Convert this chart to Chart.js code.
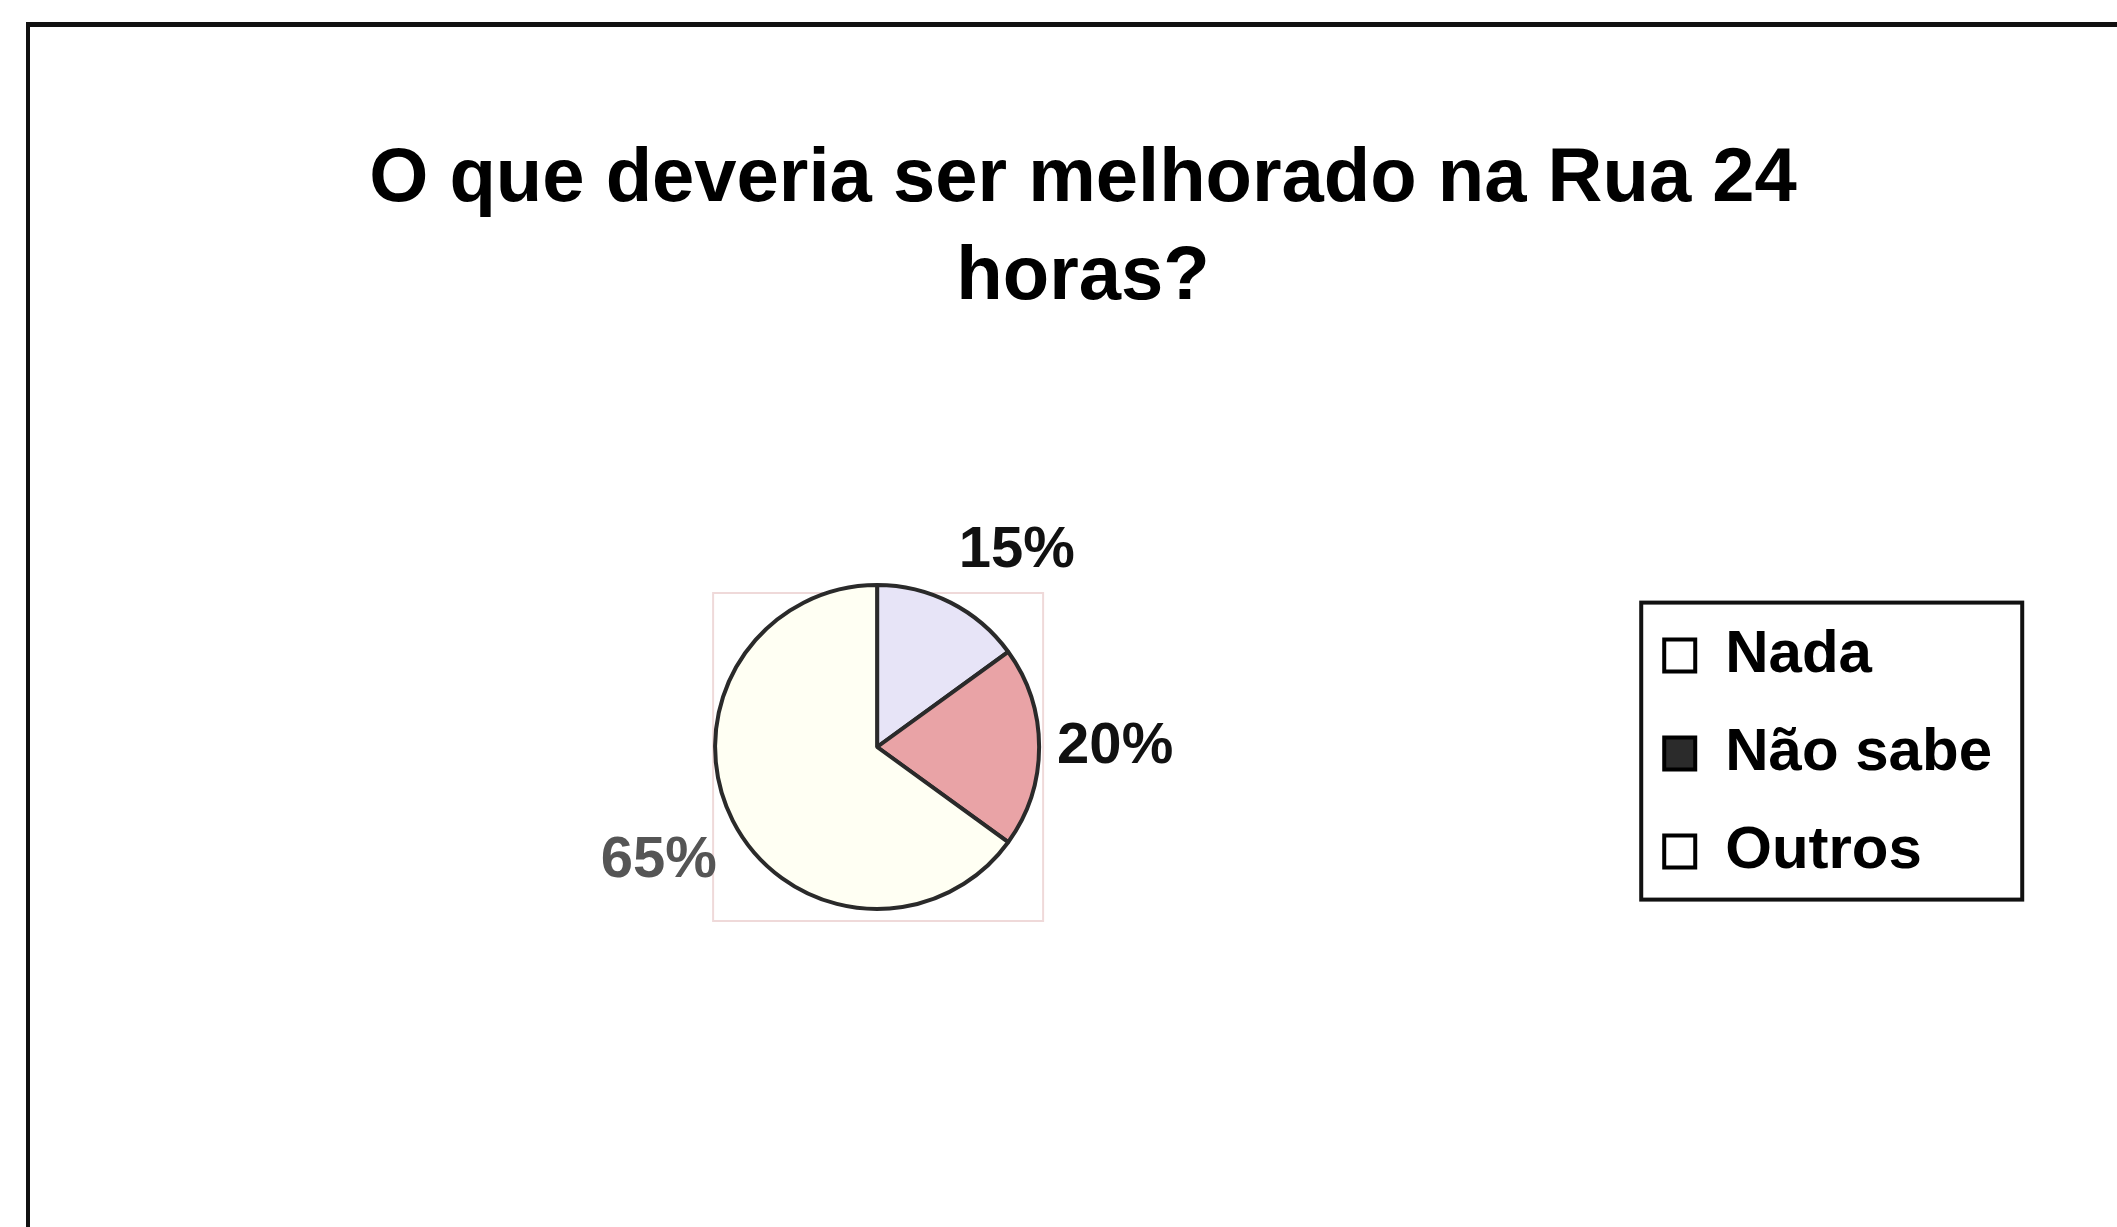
<!DOCTYPE html>
<html><head><meta charset="utf-8">
<script src="https://cdn.jsdelivr.net/npm/chart.js@4.4.0/dist/chart.umd.min.js"></script>
<style>html,body{margin:0;padding:0;background:#fff;overflow:hidden}
#wrap{position:absolute;left:0;top:0;width:2117px;height:1227px}</style>
</head><body><div id="wrap"><canvas id="c"></canvas></div>
<script>
const titleLines = ["O que deveria ser melhorado na Rua 24", "horas?"];
const categories = ["Nada", "Não sabe", "Outros"];
const values = [15, 20, 65];
const percentLabels = ["15%", "20%", "65%"];
const sliceColors = ["#E7E4F7", "#E9A3A6", "#FFFFF3"];
const legendMarkerColors = ["#ffffff", "#2b2b2b", "#ffffff"];
const labelColors = ["#111111", "#111111", "#555555"];

const FONT = '"Liberation Sans", Arial, sans-serif';

const framePlugin = {
  id: 'frame',
  beforeDraw(chart) {
    const ctx = chart.ctx;
    ctx.save();
    ctx.fillStyle = '#fff';
    ctx.fillRect(0, 0, chart.width, chart.height);
    ctx.fillStyle = '#111';
    ctx.fillRect(26, 22, chart.width - 26, 5);
    ctx.fillRect(26, 22, 4, chart.height - 22);
    ctx.restore();
  }
};

const titlePlugin = {
  id: 'customTitle',
  afterDraw(chart) {
    const ctx = chart.ctx;
    ctx.save();
    ctx.font = 'bold 76px ' + FONT;
    ctx.fillStyle = '#000';
    ctx.textAlign = 'center';
    ctx.textBaseline = 'middle';
    titleLines.forEach((t, i) => ctx.fillText(t, 1083, 180 + i * 98));
    ctx.restore();
  }
};

const plotRectPlugin = {
  id: 'plotRect',
  beforeDatasetsDraw(chart) {
    const arc = chart.getDatasetMeta(0).data[0];
    if (!arc) return;
    const r = arc.outerRadius;
    const ctx = chart.ctx;
    ctx.save();
    ctx.strokeStyle = 'rgba(225,185,185,0.55)';
    ctx.lineWidth = 2;
    ctx.strokeRect(arc.x - r - 2, arc.y - r + 8, 2 * r + 6, 2 * r + 4);
    ctx.restore();
  }
};

const labelPlugin = {
  id: 'pctLabels',
  afterDatasetsDraw(chart) {
    const ctx = chart.ctx;
    const meta = chart.getDatasetMeta(0);
    ctx.save();
    ctx.font = 'bold 58px ' + FONT;
    ctx.textAlign = 'center';
    ctx.textBaseline = 'middle';
    meta.data.forEach((arc, i) => {
      const mid = (arc.startAngle + arc.endAngle) / 2;
      const dx = Math.cos(mid), dy = Math.sin(mid);
      const r = arc.outerRadius + 18;
      const hw = ctx.measureText(percentLabels[i]).width / 2;
      const hh = 36;
      const sx = Math.sign(dx) * hw * Math.min(1, 2.5 * Math.abs(dx));
      const sy = Math.sign(dy) * hh * Math.min(1, 2 * Math.abs(dy));
      ctx.fillStyle = labelColors[i];
      ctx.fillText(percentLabels[i], arc.x + dx * r + sx, arc.y + dy * r + sy);
    });
    ctx.restore();
  }
};

const legendBoxPlugin = {
  id: 'legendBox',
  afterDraw(chart) {
    const lg = chart.legend;
    if (!lg || !lg.legendHitBoxes || !lg.legendHitBoxes.length) return;
    const hb = lg.legendHitBoxes;
    const first = hb[0], last = hb[hb.length - 1];
    const x0 = first.left - 23, y0 = first.top - 23;
    const x1 = first.left + 358, y1 = last.top + last.height + 18;
    const ctx = chart.ctx;
    ctx.save();
    ctx.strokeStyle = '#111';
    ctx.lineWidth = 4;
    ctx.strokeRect(x0, y0, x1 - x0, y1 - y0);
    ctx.restore();
  }
};

new Chart(document.getElementById('c'), {
  type: 'pie',
  data: {
    labels: categories,
    datasets: [{
      data: values,
      backgroundColor: sliceColors,
      borderColor: '#2a2a2a',
      borderWidth: 4
    }]
  },
  options: {
    responsive: true,
    maintainAspectRatio: false,
    animation: false,
    events: [],
    radius: 162,
    layout: { padding: { left: 128, right: 115, top: 420, bottom: 153 } },
    plugins: {
      title: { display: false },
      tooltip: { enabled: false },
      legend: {
        display: true,
        position: 'right',
        align: 'center',
        fullSize: false,
        title: { display: true, text: '', font: { size: 1 }, padding: 6 },
        labels: {
          boxWidth: 31,
          boxHeight: 32,
          padding: 38,
          color: '#000',
          font: { family: FONT, size: 60, weight: 'bold' },
          generateLabels() {
            return categories.map((t, i) => ({
              text: t,
              fillStyle: legendMarkerColors[i],
              strokeStyle: '#000',
              lineWidth: 4,
              hidden: false,
              index: i,
              fontColor: '#000'
            }));
          }
        }
      }
    }
  },
  plugins: [framePlugin, plotRectPlugin, labelPlugin, titlePlugin, legendBoxPlugin]
});
</script>
</body></html>
